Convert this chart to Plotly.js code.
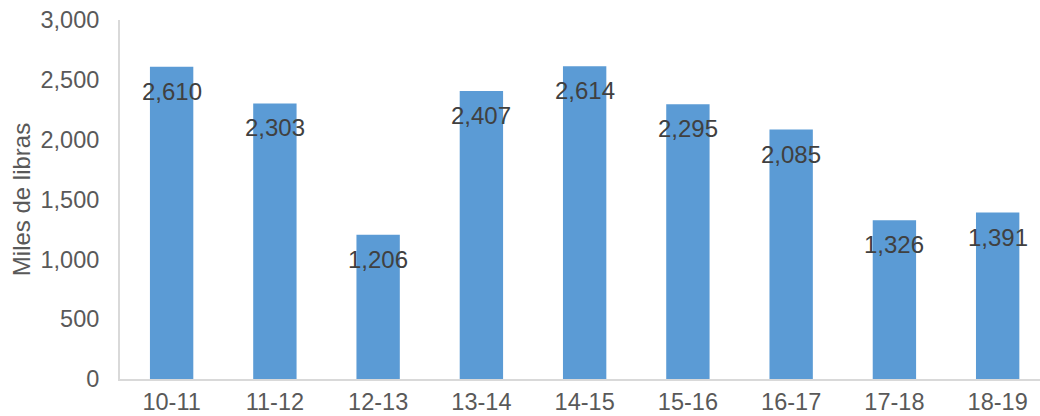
<!DOCTYPE html>
<html><head><meta charset="utf-8">
<script src="https://cdn.plot.ly/plotly-3.0.1.min.js"></script>
<style>html,body{margin:0;padding:0;overflow:hidden;background:#fff}</style>
</head><body><div id="chart" style="width:1040px;height:416px"></div>
<script>
const categories = ["10-11","11-12","12-13","13-14","14-15","15-16","16-17","17-18","18-19"];
const values = [2610, 2303, 1206, 2407, 2614, 2295, 2085, 1326, 1391];
const labels = ["2,610","2,303","1,206","2,407","2,614","2,295","2,085","1,326","1,391"];
const yTicks = [0, 500, 1000, 1500, 2000, 2500, 3000];
const yTickText = ["0","500","1,000","1,500","2,000","2,500","3,000"];

const font = "Liberation Sans, Arial, Helvetica, sans-serif";
const trace = {
  type: "bar", x: categories, y: values,
  marker: {color: "#5b9bd5"}, width: 0.42, hoverinfo: "none"
};
const annotations = categories.map((c, i) => ({
  x: c, y: values[i], text: labels[i], showarrow: false,
  yanchor: "top", yshift: -9, font: {family: font, size: 24, color: "#404040"}
}));
const layout = {
  width: 1040, height: 416,
  margin: {l: 120, r: 0, t: 20, b: 37},
  paper_bgcolor: "#fff", plot_bgcolor: "#fff",
  showlegend: false,
  xaxis: {type: "category", range: [-0.5, 8.41], showgrid: false, showline: true,
    linecolor: "#d9d9d9", linewidth: 2, ticks: "", zeroline: false,
    ticklabelstandoff: 1,
    tickfont: {family: font, size: 23.5, color: "#595959"}},
  yaxis: {range: [0, 3000], tickvals: yTicks, ticktext: yTickText, showgrid: false,
    showline: true, linecolor: "#d9d9d9", linewidth: 2, zeroline: false, ticks: "",
    ticklabelstandoff: 14,
    tickfont: {family: font, size: 23.5, color: "#595959"},
    title: {text: "Miles de libras", standoff: 3, font: {family: font, size: 24, color: "#595959"}}},
  annotations: annotations
};
Plotly.newPlot("chart", [trace], layout, {displayModeBar: false, staticPlot: true});
</script></body></html>
